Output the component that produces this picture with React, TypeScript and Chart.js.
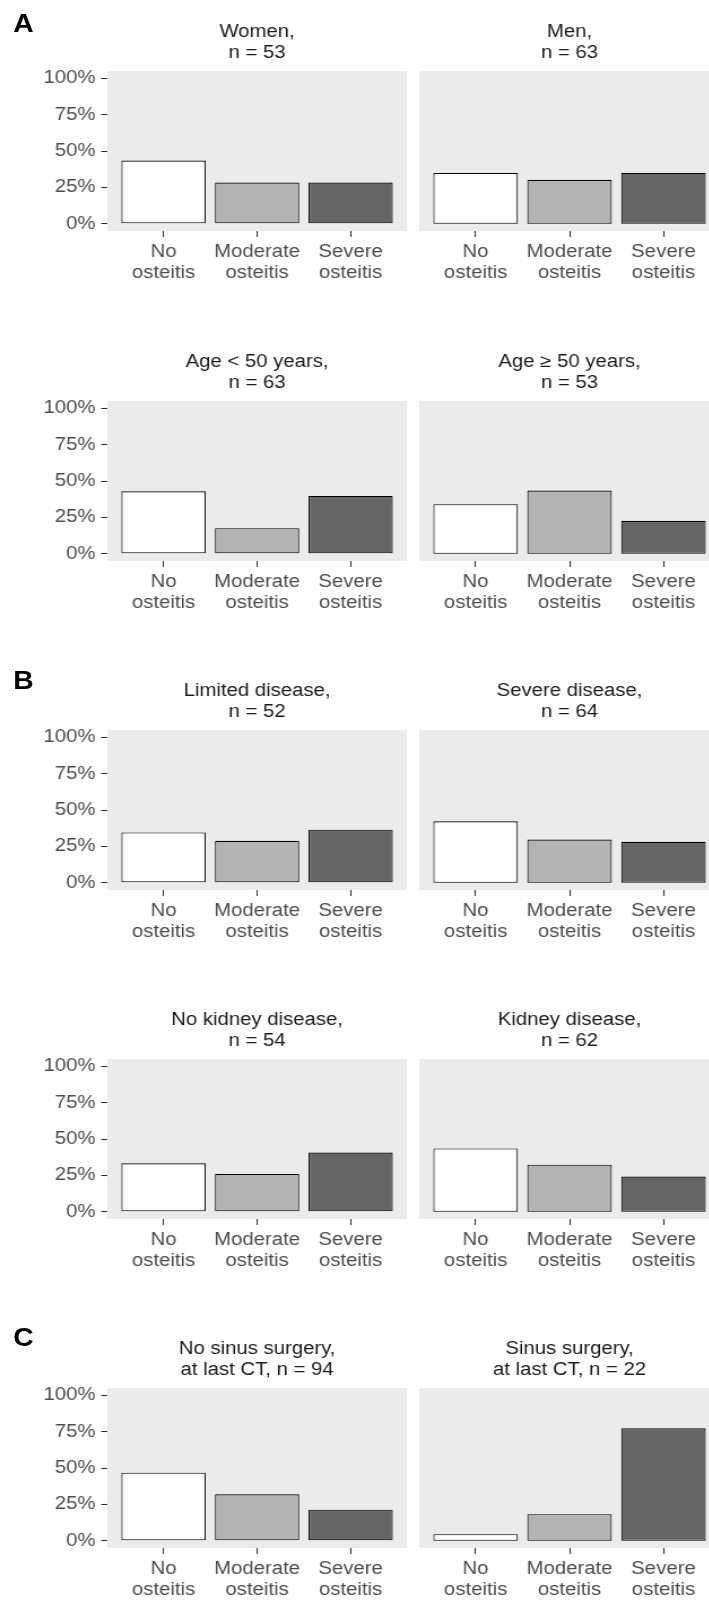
import React, { useEffect, useRef } from 'react';
import { Chart, registerables } from 'chart.js';

Chart.register(...registerables);

// ---- data (percent of patients in each group) ----
const categories: string[][] = [
  ['No', 'osteitis'],
  ['Moderate', 'osteitis'],
  ['Severe', 'osteitis'],
];
const yTickValues = [0, 25, 50, 75, 100];

const women = [43.4, 28.3, 28.3];
const men = [34.9, 30.2, 34.9];
const ageUnder50 = [42.9, 17.5, 39.7];
const age50Plus = [34.0, 43.4, 22.6];
const limitedDisease = [34.6, 28.8, 36.5];
const severeDisease = [42.2, 29.7, 28.1];
const noKidneyDisease = [33.3, 25.9, 40.7];
const kidneyDisease = [43.5, 32.3, 24.2];
const noSinusSurgery = [46.8, 31.9, 21.3];
const sinusSurgery = [4.5, 18.2, 77.3];

const titleWomen = ['Women,', 'n = 53'];
const titleMen = ['Men,', 'n = 63'];
const titleAgeUnder = ['Age < 50 years,', 'n = 63'];
const titleAgeOver = ['Age \u2265 50 years,', 'n = 53'];
const titleLimited = ['Limited disease,', 'n = 52'];
const titleSevere = ['Severe disease,', 'n = 64'];
const titleNoKidney = ['No kidney disease,', 'n = 54'];
const titleKidney = ['Kidney disease,', 'n = 62'];
const titleNoSurgery = ['No sinus surgery,', 'at last CT, n = 94'];
const titleSurgery = ['Sinus surgery,', 'at last CT, n = 22'];

const sectionLabels = ['A', 'B', 'C'];

const barFills = ['#FFFFFF', '#B3B3B3', '#666666'];

// ---- layout (inner coordinates; the whole figure is widened by STRETCH) ----
const STRETCH = 1.13;
const INNER_W = 709 / STRETCH;
const FONT = "'Liberation Sans', Arial, Helvetica, sans-serif";
const PANEL_H = 160;
const Y_AXIS_W = 95;
const LEFT_W = 360;
const RIGHT_W = 266;
const X_AXIS_H = 60;
const TITLE_H = 54;
const ROW_TOPS = [71, 401, 730, 1059, 1388];
const COL_LEFTS = [0, 371];
const sectionTops = [10.5, 667.5, 1325];

const panelBackground = {
  id: 'panelBackground',
  beforeDraw(chart: any) {
    const { ctx, chartArea } = chart;
    ctx.save();
    ctx.fillStyle = '#EBEBEB';
    ctx.fillRect(chartArea.left, chartArea.top, chartArea.right - chartArea.left, chartArea.bottom - chartArea.top);
    ctx.restore();
  },
};

type PanelProps = {
  title: string[];
  values: number[];
  showY: boolean;
  left: number;
  top: number;
};

function Panel({ title, values, showY, left, top }: PanelProps) {
  const ref = useRef<HTMLCanvasElement | null>(null);
  const width = showY ? LEFT_W : RIGHT_W;
  const height = TITLE_H + PANEL_H + X_AXIS_H;

  useEffect(() => {
    if (!ref.current) return;
    const font = { family: FONT, size: 18, lineHeight: 1.2 };
    const chart = new Chart(ref.current, {
      type: 'bar',
      data: {
        datasets: [
          {
            data: values.map((v, i) => ({ x: i + 1, y: v })),
            backgroundColor: barFills,
            borderColor: '#000000',
            borderWidth: 1.1,
            borderSkipped: false,
            categoryPercentage: 1,
            barPercentage: 0.9,
          } as any,
        ],
      },
      options: {
        animation: false,
        responsive: false,
        devicePixelRatio: 1,
        layout: { padding: 0 },
        plugins: {
          legend: { display: false },
          tooltip: { enabled: false },
          title: {
            display: true,
            text: title,
            fullSize: false,
            color: '#1A1A1A',
            font: { ...font, weight: 'normal' },
            padding: { top: 3.8, bottom: 7 },
          },
        },
        scales: {
          x: {
            type: 'linear',
            min: 0.4,
            max: 3.6,
            offset: false,
            afterFit: (s: any) => {
              s.height = X_AXIS_H;
            },
            afterBuildTicks: (s: any) => {
              s.ticks = categories.map((_, i) => ({ value: i + 1 }));
            },
            border: { display: false },
            grid: {
              offset: false,
              drawOnChartArea: false,
              drawTicks: true,
              tickLength: 6,
              tickColor: '#333333',
              tickWidth: 1.1,
            },
            ticks: {
              autoSkip: false,
              maxRotation: 0,
              color: '#4D4D4D',
              font,
              padding: 4,
              callback: (v: any) => categories[Math.round(v) - 1] ?? '',
            },
          },
          y: {
            min: -5,
            max: 105,
            display: showY,
            afterFit: (s: any) => {
              s.width = showY ? Y_AXIS_W : 0;
            },
            afterBuildTicks: (s: any) => {
              s.ticks = yTickValues.map((v) => ({ value: v }));
            },
            border: { display: false },
            grid: {
              drawOnChartArea: false,
              drawTicks: true,
              tickLength: 5.5,
              tickColor: '#333333',
              tickWidth: 1.1,
            },
            ticks: {
              color: '#4D4D4D',
              font,
              padding: 5,
              callback: (v: any) => `${v}%`,
            },
          },
        },
      } as any,
      plugins: [panelBackground],
    });
    return () => chart.destroy();
  }, [title, values, showY]);

  return (
    <canvas
      ref={ref}
      width={width}
      height={height}
      style={{ position: 'absolute', left, top: top - TITLE_H, width, height }}
    />
  );
}

const panels: { title: string[]; values: number[] }[][] = [
  [
    { title: titleWomen, values: women },
    { title: titleMen, values: men },
  ],
  [
    { title: titleAgeUnder, values: ageUnder50 },
    { title: titleAgeOver, values: age50Plus },
  ],
  [
    { title: titleLimited, values: limitedDisease },
    { title: titleSevere, values: severeDisease },
  ],
  [
    { title: titleNoKidney, values: noKidneyDisease },
    { title: titleKidney, values: kidneyDisease },
  ],
  [
    { title: titleNoSurgery, values: noSinusSurgery },
    { title: titleSurgery, values: sinusSurgery },
  ],
];

export default function App() {
  return (
    <div
      style={{
        position: 'absolute',
        left: 0,
        top: 0,
        width: 709,
        height: 1600,
        overflow: 'hidden',
        background: '#FFFFFF',
      }}
    >
      <div
        style={{
          position: 'absolute',
          left: 0,
          top: 0,
          width: INNER_W,
          height: 1600,
          overflow: 'hidden',
          transform: `scaleX(${STRETCH})`,
          transformOrigin: '0 0',
        }}
      >
        {sectionLabels.map((s, i) => (
          <div
            key={s}
            style={{
              position: 'absolute',
              left: 11.8,
              top: sectionTops[i],
              fontFamily: FONT,
              fontWeight: 'bold',
              fontSize: 25,
              lineHeight: '25px',
              color: '#000000',
            }}
          >
            {s}
          </div>
        ))}
        {panels.map((row, r) =>
          row.map((p, c) => (
            <Panel
              key={`${r}-${c}`}
              title={p.title}
              values={p.values}
              showY={c === 0}
              left={COL_LEFTS[c]}
              top={ROW_TOPS[r]}
            />
          ))
        )}
      </div>
    </div>
  );
}
